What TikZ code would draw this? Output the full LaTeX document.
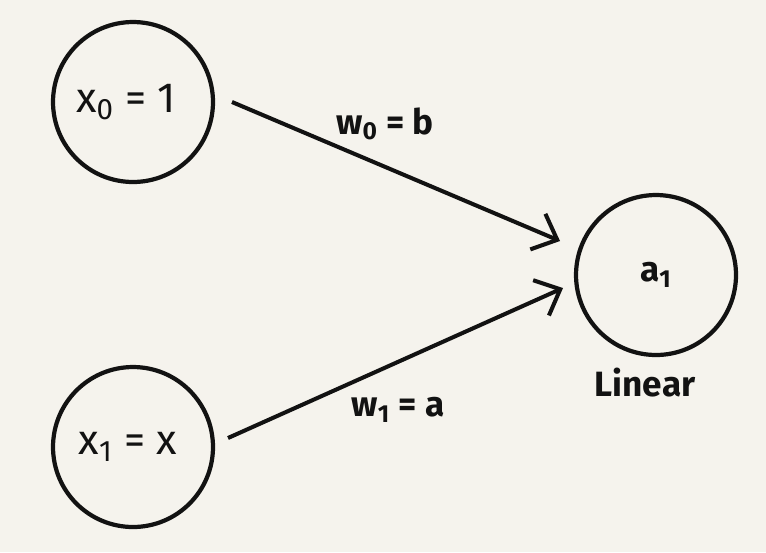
\documentclass[tikz,border=0pt]{standalone}
\usepackage{fontspec}
\setmainfont{Fira Sans}
\usetikzlibrary{arrows.meta,calc}
\definecolor{paper}{RGB}{245,243,237}
\definecolor{ink}{RGB}{18,18,18}
\tikzset{
  neuron/.style={circle,draw=ink,line width=2.4pt,minimum size=3.2cm,inner sep=0pt,text=ink,font=\fontsize{24}{28}\selectfont},
  conn/.style={draw=ink,line width=2.3pt,-{Straight Barb[length=12pt,width=22pt,line width=2.3pt]}},
  lbl/.style={text=ink,font=\fontsize{20}{24}\selectfont\bfseries}
}
\begin{document}
\begin{tikzpicture}[x=0.02cm,y=-0.02cm]
\fill[paper] (0,0) rectangle (766,552);
\useasboundingbox (0,0) rectangle (766,552);
\node[neuron] (x0) at (133,102) {\hspace*{-8pt}x\textsubscript{0} = 1};
\node[neuron] (x1) at (133,447) {\hspace*{-6pt}x\textsubscript{1} = x};
\node[neuron,font=\fontsize{20}{24}\selectfont\bfseries] (a1) at (656,275) {\raisebox{-4pt}{a\textsubscript{1}}};
\coordinate (s0) at ($(x0)+(99,0)$);
\coordinate (e0) at ($(a1)+(-96,-34)$);
\coordinate (s1) at ($(x1)+(95,-9)$);
\coordinate (e1) at ($(a1)+(-93,13)$);
\draw[conn] (s0) -- (e0);
\draw[conn] (s1) -- (e1);
\node[lbl] (l0) at (385,124) {w\textsubscript{0} = b};
\node[lbl] (l1) at (398,410) {w\textsubscript{1} = a};
\node[lbl] (lin) at (645,383) {Linear};
\end{tikzpicture}
\end{document}
